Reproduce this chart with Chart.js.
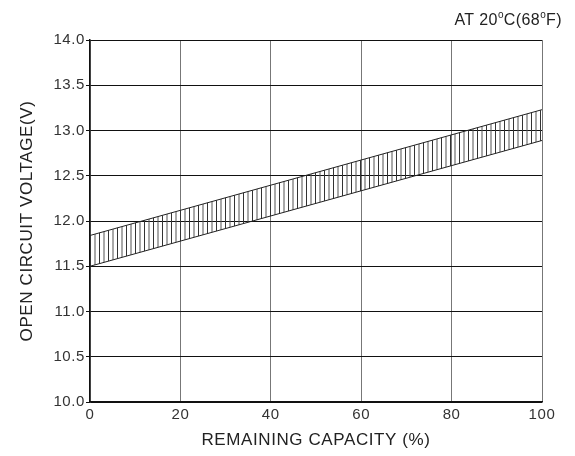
<!DOCTYPE html>
<html>
<head>
<meta charset="utf-8">
<script src="https://cdn.jsdelivr.net/npm/chart.js@4"></script>
<style>
html,body{margin:0;padding:0;background:#fff;}
#wrap{position:relative;width:575px;height:456px;}
</style>
</head>
<body>
<div id="wrap"><canvas id="c" width="575" height="456"></canvas></div>
<script>
// Data
const capacity = [0, 100];                 // remaining capacity (%)
const voltageLow = [11.50, 12.89];         // lower edge of band (V)
const voltageHigh = [11.84, 13.23];        // upper edge of band (V)
const xTicks = [0, 20, 40, 60, 80, 100];
const yTicks = [10.0, 10.5, 11.0, 11.5, 12.0, 12.5, 13.0, 13.5, 14.0];
// corner note: "AT 20°C(68°F)" with superscript degree marks
const titleParts = [['AT 20', false], ['o', true], ['C(68', false], ['o', true], ['F)', false]];
const xTitle = 'REMAINING CAPACITY (%)';
const yTitle = 'OPEN CIRCUIT VOLTAGE(V)';

const FONT = '"Liberation Sans", Arial, sans-serif';

// vertical hatch pattern
function hatch() {
  const p = document.createElement('canvas');
  p.width = 9; p.height = 4;
  const g = p.getContext('2d');
  g.fillStyle = '#333';
  g.fillRect(0, 0, 1, 4);
  g.fillStyle = '#555';
  g.fillRect(4.5, 0, 1, 4);
  return document.getElementById('c').getContext('2d').createPattern(p, 'repeat');
}

const toPts = (ys) => capacity.map((x, i) => ({x: x, y: ys[i]}));

const spacingPlugin = {
  id: 'spacing',
  beforeLayout(chart) { chart.ctx.letterSpacing = '0.6px'; },
  beforeDraw(chart) { chart.ctx.letterSpacing = '0.6px'; }
};

const titlePlugin = {
  id: 'cornerTitle',
  afterDraw(chart) {
    const ctx = chart.ctx;
    ctx.save();
    ctx.letterSpacing = '0.4px';
    ctx.fillStyle = '#222';
    ctx.textAlign = 'left';
    ctx.textBaseline = 'alphabetic';
    const big = '16px ' + FONT, small = '10px ' + FONT;
    let total = 0;
    titleParts.forEach(([t, sup]) => { ctx.font = sup ? small : big; total += ctx.measureText(t).width; });
    let x = 562 - total;
    const base = 25;
    titleParts.forEach(([t, sup]) => {
      ctx.font = sup ? small : big;
      ctx.fillText(t, x, sup ? base - 7 : base);
      x += ctx.measureText(t).width;
    });
    ctx.restore();
  }
};

new Chart(document.getElementById('c'), {
  type: 'line',
  data: {
    datasets: [
      {
        data: toPts(voltageLow),
        borderColor: '#222',
        borderWidth: 1,
        pointRadius: 0,
        fill: false
      },
      {
        data: toPts(voltageHigh),
        borderColor: '#222',
        borderWidth: 1,
        pointRadius: 0,
        fill: '-1',
        backgroundColor: hatch()
      }
    ]
  },
  options: {
    responsive: false,
    animation: false,
    layout: {padding: {top: 40, right: 33, left: 0, bottom: 0}},
    plugins: {legend: {display: false}, tooltip: {enabled: false}},
    scales: {
      x: {
        type: 'linear',
        min: 0, max: 100,
        afterBuildTicks(s) { s.ticks = xTicks.map(v => ({value: v})); },
        afterFit(s) { s.height = 54; },
        grid: {color: '#777', lineWidth: 1, drawTicks: false},
        border: {color: '#111', width: 1.5},
        ticks: {padding: 4, color: '#333', font: {family: FONT, size: 15}, maxRotation: 0},
        title: {display: true, text: xTitle, color: '#222', font: {family: FONT, size: 17}, padding: {top: 0, bottom: 5}}
      },
      y: {
        type: 'linear',
        min: 10, max: 14,
        afterBuildTicks(s) { s.ticks = yTicks.map(v => ({value: v})); },
        afterFit(s) { s.width = 90; },
        grid: {color: '#111', lineWidth: 1, drawTicks: true, tickLength: 4},
        border: {color: '#111', width: 1.5},
        ticks: {padding: 1, color: '#333', font: {family: FONT, size: 15}, callback: v => v.toFixed(1)},
        title: {display: true, text: yTitle, color: '#222', font: {family: FONT, size: 17}, padding: {top: 17, bottom: 0}}
      }
    }
  },
  plugins: [spacingPlugin, titlePlugin]
});
</script>
</body>
</html>
